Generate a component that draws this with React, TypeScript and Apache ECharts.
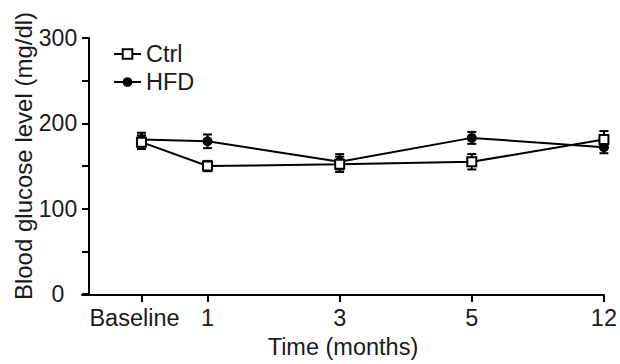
import React, { useEffect, useRef } from "react";
import * as echarts from "echarts";

const tickLabels = ["Baseline", "1", "3", "5", "12"];
const tickPositions = [0, 0.5, 1.5, 2.5, 3.5];
const ctrlMean = [178, 150, 152, 155, 181];
const ctrlErr = [8, 6, 9, 9, 10];
const hfdMean = [181, 179, 155, 183, 172];
const hfdErr = [8, 8, 9, 7, 7];

const FONT = "Liberation Sans, Arial, Helvetica, sans-serif";
const TXT = "#1a1a1a";
const FS = 23.5;

function errData(mean: number[], err: number[]) {
  return tickPositions.map((x, i) => [x, mean[i] - err[i], mean[i] + err[i]]);
}

function errRender(params: any, api: any) {
  const x = api.value(0);
  const lo = api.coord([x, api.value(1)]);
  const hi = api.coord([x, api.value(2)]);
  const w = 4.5;
  const style = { stroke: "#000", lineWidth: 2 };
  return {
    type: "group",
    children: [
      { type: "line", shape: { x1: lo[0], y1: lo[1], x2: hi[0], y2: hi[1] }, style },
      { type: "line", shape: { x1: lo[0] - w, y1: lo[1], x2: lo[0] + w, y2: lo[1] }, style },
      { type: "line", shape: { x1: hi[0] - w, y1: hi[1], x2: hi[0] + w, y2: hi[1] }, style },
    ],
  };
}

export default function App() {
  const ref = useRef<HTMLDivElement>(null);
  useEffect(() => {
    const chart = echarts.init(ref.current!, undefined, { renderer: "svg" });
    chart.setOption({
      animation: false,
      textStyle: { fontFamily: FONT },
      grid: { left: 82, right: 15, top: 38, bottom: 64 },
      legend: {
        data: ["Ctrl", "HFD"],
        orient: "vertical",
        left: 113,
        top: 42,
        padding: 0,
        itemGap: 4,
        itemWidth: 27,
        itemHeight: 12,
        textStyle: { fontSize: FS, color: TXT, fontFamily: FONT },
      },
      xAxis: {
        type: "value",
        min: -0.45,
        max: 3.5,
        offset: 1,
        splitLine: { show: false },
        axisLine: { onZero: false, lineStyle: { color: "#000", width: 2 } },
        axisTick: { customValues: tickPositions, length: 7, lineStyle: { color: "#000", width: 2 } },
        axisLabel: {
          customValues: tickPositions,
          formatter: (v: number) => {
            const i = tickPositions.findIndex((p) => Math.abs(p - v) < 1e-6);
            if (i < 0) return "";
            return i === 0 ? `{b|${tickLabels[i]}}` : tickLabels[i];
          },
          rich: {
            b: { fontSize: FS, color: TXT, fontFamily: FONT, padding: [0, 14, 0, 0] },
          },
          fontSize: FS,
          color: TXT,
          fontFamily: FONT,
          margin: 11,
        },
        name: "Time (months)",
        nameLocation: "middle",
        nameGap: 39,
        nameTextStyle: { fontSize: FS, color: TXT, fontFamily: FONT },
      },
      yAxis: {
        type: "value",
        min: 0,
        max: 300,
        interval: 50,
        offset: -7,
        splitLine: { show: false },
        axisLine: { show: true, onZero: false, lineStyle: { color: "#000", width: 2 } },
        axisTick: { show: true, length: 7, lineStyle: { color: "#000", width: 2 } },
        axisLabel: {
          formatter: (v: number) => (v % 100 === 0 ? String(v) : ""),
          fontSize: 23,
          color: TXT,
          fontFamily: FONT,
          align: "center",
          margin: 31,
        },
      },
      graphic: [
        {
          type: "text",
          x: 23,
          y: 156,
          rotation: Math.PI / 2,
          style: {
            text: "Blood glucose level (mg/dl)",
            font: `24px ${FONT}`,
            fill: TXT,
            align: "center",
            verticalAlign: "middle",
          },
        },
      ],
      series: [
        {
          type: "custom",
          name: "Ctrl err",
          renderItem: errRender,
          data: errData(ctrlMean, ctrlErr),
          encode: { x: 0, y: [1, 2] },
          z: 1,
        },
        {
          type: "custom",
          name: "HFD err",
          renderItem: errRender,
          data: errData(hfdMean, hfdErr),
          encode: { x: 0, y: [1, 2] },
          z: 1,
        },
        {
          type: "line",
          name: "HFD",
          data: tickPositions.map((x, i) => [x, hfdMean[i]]),
          symbol: "circle",
          symbolSize: 10,
          lineStyle: { color: "#000", width: 2 },
          itemStyle: { color: "#000" },
          z: 3,
        },
        {
          type: "line",
          name: "Ctrl",
          data: tickPositions.map((x, i) => [x, ctrlMean[i]]),
          symbol: "rect",
          symbolSize: 9,
          lineStyle: { color: "#000", width: 2 },
          itemStyle: { color: "#fff", borderColor: "#000", borderWidth: 2 },
          z: 4,
        },
      ],
    });
    return () => chart.dispose();
  }, []);
  return (
    <div
      ref={ref}
      style={{ position: "absolute", left: 0, top: 0, width: 620, height: 364 }}
    />
  );
}
